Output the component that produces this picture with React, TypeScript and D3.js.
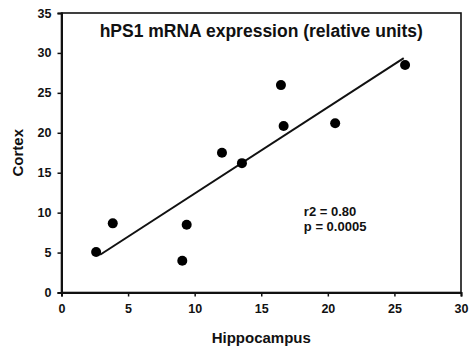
import { useEffect, useRef } from 'react';
import * as d3 from 'd3';

// values
const hippocampus = [2.6, 3.85, 9.07, 9.4, 12.05, 13.55, 16.48, 16.68, 20.55, 25.8];
const cortex = [5.07, 8.66, 3.98, 8.49, 17.5, 16.2, 25.97, 20.84, 21.2, 28.48];
const xTicks = [0, 5, 10, 15, 20, 25, 30];
const yTicks = [0, 5, 10, 15, 20, 25, 30, 35];
const fitRange = [2.9, 25.7];
const statsLines = ['r2 = 0.80', 'p = 0.0005'];

const W = 471;
const H = 349;
const FONT = '"Liberation Sans", Arial, sans-serif';

export default function App() {
    const svgRef = useRef<SVGSVGElement>(null);

    useEffect(() => {
        if (!svgRef.current) return;
        d3.select(svgRef.current).selectAll('*').remove();

        const margin = { top: 13, right: 10, bottom: 56.5, left: 61.5 };
        const width = W - margin.left - margin.right;
        const height = H - margin.top - margin.bottom;

        const svg = d3.select(svgRef.current)
            .attr('width', W)
            .attr('height', H)
            .style('font-family', FONT);

        const g = svg.append('g')
            .attr('transform', `translate(${margin.left},${margin.top})`);

        const x = d3.scaleLinear().domain([0, 30]).range([0, width]);
        const y = d3.scaleLinear().domain([0, 35]).range([height, 0]);

        // frame
        g.append('rect')
            .attr('width', width)
            .attr('height', height)
            .attr('fill', 'none')
            .attr('stroke', '#111')
            .attr('stroke-width', 1.6);

        // axes
        const xAxis = g.append('g')
            .attr('transform', `translate(0,${height})`)
            .call(d3.axisBottom(x).tickValues(xTicks).tickSize(4).tickPadding(8).tickFormat(d3.format('d')));
        const yAxis = g.append('g')
            .call(d3.axisLeft(y).tickValues(yTicks).tickSize(4).tickPadding(6).tickFormat(d3.format('d')));

        [xAxis, yAxis].forEach(ax => {
            ax.select('.domain').attr('stroke', '#111').attr('stroke-width', 2);
            ax.selectAll('.tick line').attr('stroke', '#111').attr('stroke-width', 1.5);
            ax.selectAll('.tick text')
                .attr('fill', '#111')
                .style('font-family', FONT)
                .style('font-size', '12.5px')
                .style('font-weight', 'bold');
        });

        // regression line from the points
        const pts = hippocampus.map((h, i) => [h, cortex[i]] as [number, number]);
        const mx = d3.mean(hippocampus) as number;
        const my = d3.mean(cortex) as number;
        const slope = d3.sum(pts, p => (p[0] - mx) * (p[1] - my)) / d3.sum(pts, p => (p[0] - mx) ** 2);
        const intercept = my - slope * mx;
        const line = d3.line<number>()
            .x(d => x(d))
            .y(d => y(intercept + slope * d));
        g.append('path')
            .datum(fitRange)
            .attr('d', line)
            .attr('fill', 'none')
            .attr('stroke', '#111')
            .attr('stroke-width', 2);

        // points
        g.selectAll('circle')
            .data(pts)
            .enter()
            .append('circle')
            .attr('cx', d => x(d[0]))
            .attr('cy', d => y(d[1]))
            .attr('r', 5)
            .attr('fill', '#000');

        // title
        g.append('text')
            .attr('x', x(15))
            .attr('y', 23.5)
            .attr('text-anchor', 'middle')
            .style('font-size', '17.5px')
            .style('font-weight', 'bold')
            .attr('fill', '#111')
            .text('hPS1 mRNA expression (relative units)');

        // stats
        g.append('g')
            .selectAll('text')
            .data(statsLines)
            .enter()
            .append('text')
            .attr('x', x(18.2))
            .attr('y', (_, i) => y(10) + 3 + i * 15.5)
            .style('font-size', '13px')
            .style('font-weight', 'bold')
            .attr('fill', '#111')
            .text(d => d);

        // axis titles
        svg.append('text')
            .attr('x', margin.left + x(15))
            .attr('y', 343)
            .attr('text-anchor', 'middle')
            .style('font-size', '15px')
            .style('font-weight', 'bold')
            .attr('fill', '#111')
            .text('Hippocampus');

        svg.append('text')
            .attr('transform', `translate(23,${margin.top + y(17.5)}) rotate(-90)`)
            .attr('text-anchor', 'middle')
            .style('font-size', '15px')
            .style('font-weight', 'bold')
            .attr('fill', '#111')
            .text('Cortex');
    }, []);

    return (
        <div style={{ position: 'absolute', left: 0, top: 0, width: W, height: H, background: '#fff' }}>
            <svg ref={svgRef} style={{ display: 'block' }} />
        </div>
    );
}
